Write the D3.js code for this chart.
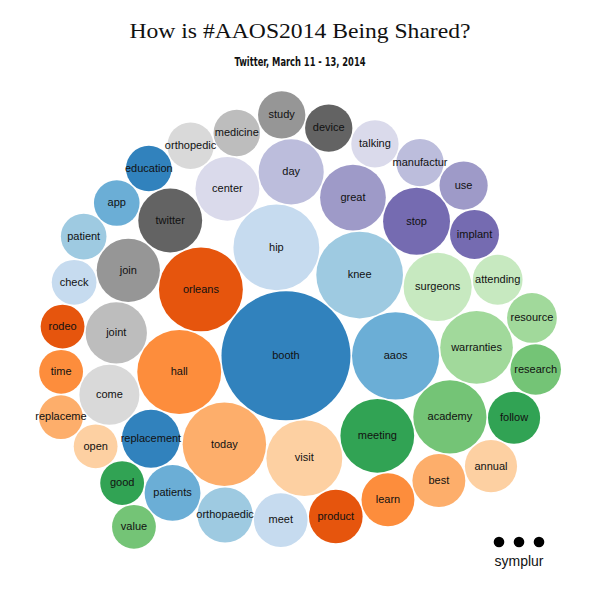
<!DOCTYPE html>
<html>
<head>
<meta charset="utf-8">
<script src="https://cdnjs.cloudflare.com/ajax/libs/d3/7.8.5/d3.min.js"></script>
<style>
  body { margin: 0; background: #fff; }
  .title { font-family: "Liberation Serif", "DejaVu Serif", serif; fill: #111; }
  .subtitle { font-family: "Liberation Sans Narrow", "DejaVu Sans Condensed", sans-serif; font-weight: bold; fill: #111; }
  .bubble text { font-family: "Liberation Sans", Helvetica, Arial, sans-serif; font-size: 11px; fill: #111; pointer-events: none; }
  .logo text { font-family: "Liberation Sans", Helvetica, Arial, sans-serif; font-size: 14px; fill: #111; }
</style>
</head>
<body>
<div id="chart"></div>
<script>
// word frequencies for #AAOS2014 tweets (sorted, largest first)
const words = ["booth", "aaos", "knee", "hip", "orleans", "hall", "today", "visit",
    "meeting", "academy", "warranties", "surgeons", "stop", "great", "day", "center",
    "twitter", "join", "joint", "come", "replacement", "patients", "orthopaedic", "meet",
    "product", "learn", "best", "annual", "follow", "research", "resource", "attending",
    "implant", "use", "manufactur", "talking", "device", "study", "medicine", "orthopedic",
    "education", "app", "patient", "check", "rodeo", "time", "replaceme", "open", "good", "value"];
const counts = [208, 95, 94, 92, 88, 88, 87, 72,
    68, 67, 66, 58, 56, 54, 53, 51,
    51, 50, 47, 45, 42, 39, 38, 36,
    36, 35, 35, 34, 34, 32, 31, 31,
    30, 29, 28, 28, 28, 28, 27, 27,
    26, 26, 26, 25, 24, 24, 24, 24, 24, 24];

// old d3 category20c
const palette = ["#3182bd", "#6baed6", "#9ecae1", "#c6dbef",
    "#e6550d", "#fd8d3c", "#fdae6b", "#fdd0a2",
    "#31a354", "#74c476", "#a1d99b", "#c7e9c0",
    "#756bb1", "#9e9ac8", "#bcbddc", "#dadaeb",
    "#636363", "#969696", "#bdbdbd", "#d9d9d9"];

const width = 600, height = 599;
const padding = 0.75;
const packCenter = [300, 320];

// front-chain packing the way the old d3.layout.pack did it (spiral around the first circle)
function packChain(circles) {
    const n = circles.length;
    circles.forEach(c => { c.next = c.prev = c; });
    const intersects = (p, q) => {
        const dx = q.x - p.x, dy = q.y - p.y, dr = p.r + q.r;
        return 0.999 * dr * dr > dx * dx + dy * dy;
    };
    const insert = (p, q) => { const nx = p.next; p.next = q; q.prev = p; q.next = nx; nx.prev = q; };
    const splice = (p, q) => { p.next = q; q.prev = p; };
    const place = (p, q, c) => {
        let db = p.r + c.r;
        const dx = q.x - p.x, dy = q.y - p.y;
        let da = q.r + c.r;
        const dc = dx * dx + dy * dy;
        da *= da; db *= db;
        const x = 0.5 + (db - da) / (2 * dc);
        const y = Math.sqrt(Math.max(0, 2 * da * (db + dc) - (db -= dc) * db - da * da)) / (2 * dc);
        c.x = p.x + x * dx + y * dy;
        c.y = p.y + x * dy - y * dx;
    };
    let a = circles[0], b, c;
    a.x = -a.r; a.y = 0;
    if (n > 1) {
        b = circles[1]; b.x = b.r; b.y = 0;
        if (n > 2) {
            c = circles[2];
            place(a, b, c);
            insert(a, c);
            a.prev = c;
            insert(c, b);
            b = a.next;
            for (let i = 3; i < n; i++) {
                c = circles[i];
                place(a, b, c);
                let isect = false, s1 = 1, s2 = 1, j, k;
                for (j = b.next; j !== b; j = j.next, s1++) {
                    if (intersects(j, c)) { isect = true; break; }
                }
                if (isect) {
                    for (k = a.prev; k !== j.prev; k = k.prev, s2++) {
                        if (intersects(k, c)) break;
                    }
                    if (s1 < s2 || (s1 === s2 && b.r < a.r)) splice(a, b = j);
                    else splice(a = k, b);
                    i--;
                } else {
                    insert(a, c);
                    b = c;
                }
            }
        }
    }
    circles.forEach(c => { delete c.next; delete c.prev; });
    return circles;
}

const svg = d3.select("#chart")
    .append("svg")
    .attr("width", width)
    .attr("height", height);

svg.append("text")
    .attr("class", "title")
    .attr("x", width / 2)
    .attr("y", 38)
    .attr("text-anchor", "middle")
    .attr("font-size", "22px")
    .attr("textLength", 341)
    .attr("lengthAdjust", "spacingAndGlyphs")
    .text("How is #AAOS2014 Being Shared?");

svg.append("text")
    .attr("class", "subtitle")
    .attr("x", width / 2)
    .attr("y", 66)
    .attr("text-anchor", "middle")
    .attr("font-size", "13px")
    .attr("textLength", 131)
    .attr("lengthAdjust", "spacingAndGlyphs")
    .text("Twitter, March 11 - 13, 2014");

const rScale = d3.scaleSqrt()
    .domain([0, d3.max(counts)])
    .range([0, 64.5]);

const color = d3.scaleOrdinal()
    .domain(d3.range(palette.length))
    .range(palette);

const nodes = packChain(words.map((w, i) => ({ word: w, count: counts[i], i: i, r: rScale(counts[i]) + padding })));

// centre the bounding box of the pack
const xMin = d3.min(nodes, d => d.x - d.r), xMax = d3.max(nodes, d => d.x + d.r);
const yMin = d3.min(nodes, d => d.y - d.r), yMax = d3.max(nodes, d => d.y + d.r);

const g = svg.append("g")
    .attr("transform", `translate(${packCenter[0] - (xMin + xMax) / 2}, ${packCenter[1] - (yMin + yMax) / 2})`);

const node = g.selectAll(".bubble")
    .data(nodes)
    .enter()
    .append("g")
    .attr("class", "bubble")
    .attr("transform", d => `translate(${d.x}, ${d.y})`);

node.append("circle")
    .attr("r", d => d.r - padding)
    .attr("fill", d => color(d.i % palette.length));

node.append("text")
    .attr("dy", ".3em")
    .attr("text-anchor", "middle")
    .text(d => d.word);

// symplur logo
const logo = svg.append("g").attr("class", "logo");
const dotX = d3.scaleLinear().domain([0, 2]).range([499, 539]);
logo.selectAll("circle")
    .data([0, 1, 2])
    .enter()
    .append("circle")
    .attr("cx", d => dotX(d))
    .attr("cy", 542)
    .attr("r", 5.3)
    .attr("fill", "#000");
logo.append("text")
    .attr("x", 519)
    .attr("y", 566)
    .attr("text-anchor", "middle")
    .text("symplur");
</script>
</body>
</html>
